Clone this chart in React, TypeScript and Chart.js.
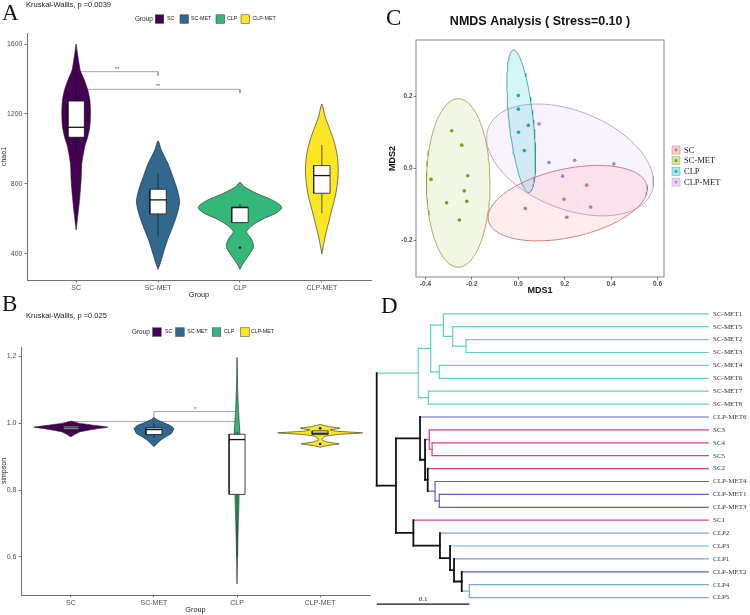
import React, { useEffect, useRef } from 'react';
import { Chart, registerables } from 'chart.js';
Chart.register(...registerables);

const SANS = '"Liberation Sans", Arial, sans-serif';
const SERIF = '"Liberation Serif", "Times New Roman", serif';
Chart.defaults.font.family = SANS;

const groups = ['SC', 'SC-MET', 'CLP', 'CLP-MET'];
const groupFill = ['#440154', '#31688E', '#35B779', '#FDE725'];

// ---------- Panel A : chao1 ----------
const chaoTitle = 'Kruskal-Wallis, p =0.0039';
const chaoTicks = [400, 800, 1200, 1600];
// [value, half width (category units)]
const chaoViolinSC = [[537, 0], [632, 0.024], [727, 0.045], [823, 0.061], [918, 0.07], [1013, 0.105], [1070, 0.142], [1127, 0.167], [1206, 0.175], [1280, 0.167], [1337, 0.142], [1394, 0.1], [1450, 0.05], [1490, 0.035], [1560, 0.012], [1600, 0]];
const chaoViolinSCMET = [[312, 0], [348, 0.028], [405, 0.065], [480, 0.115], [556, 0.18], [633, 0.236], [699, 0.264], [766, 0.236], [842, 0.18], [918, 0.12], [994, 0.04], [1047, 0]];
const chaoViolinCLP = [[312, 0], [347, 0.04], [394, 0.11], [442, 0.167], [490, 0.135], [527, 0.08], [566, 0.16], [604, 0.3], [633, 0.44], [661, 0.51], [680, 0.49], [709, 0.39], [747, 0.2], [785, 0.05], [810, 0]];
const chaoViolinCLPMET = [[400, 0], [499, 0.04], [575, 0.08], [651, 0.12], [727, 0.163], [804, 0.19], [880, 0.2], [956, 0.19], [1033, 0.155], [1109, 0.1], [1185, 0.04], [1257, 0]];
// [lower whisker, Q1, median, Q3, upper whisker]
const chaoBoxSC = [960, 1067, 1124, 1274, 1420];
const chaoBoxSCMET = [499, 629, 709, 770, 857];
const chaoBoxCLP = [579, 579, 665, 667, 686];
const chaoBoxCLPMET = [633, 747, 848, 905, 1023];
const chaoOutliers = [[3, 437]];
// [from group, to group, bracket height, label]
const chaoBrackets: [number, number, number, string][] = [[1, 2, 1442, '**'], [1, 3, 1341, '**']];

// ---------- Panel B : simpson ----------
const simpTitle = 'Kruskal-Wallis, p =0.025';
const simpTicks = [0.6, 0.8, 1.0, 1.2];
const simpViolinSC = [[0.959, 0], [0.967, 0.05], [0.975, 0.12], [0.983, 0.3], [0.988, 0.445], [0.993, 0.3], [1.0, 0.1], [1.006, 0]];
const simpViolinSCMET = [[0.93, 0], [0.949, 0.08], [0.959, 0.14], [0.969, 0.21], [0.984, 0.24], [0.993, 0.2], [1.001, 0.12], [1.01, 0.04], [1.017, 0]];
const simpViolinCLP = [[0.519, 0], [0.6, 0.006], [0.65, 0.01], [0.7, 0.015], [0.75, 0.022], [0.8, 0.026], [0.85, 0.028], [0.9, 0.03], [0.95, 0.034], [0.97, 0.034], [0.99, 0.03], [1.02, 0.022], [1.05, 0.015], [1.1, 0.008], [1.15, 0.004], [1.197, 0]];
const simpViolinCLPMET = [[0.928, 0], [0.933, 0.08], [0.938, 0.23], [0.944, 0.08], [0.95, 0.02], [0.96, 0.05], [0.966, 0.2], [0.971, 0.51], [0.976, 0.2], [0.98, 0.12], [0.985, 0.24], [0.99, 0.1], [0.996, 0]];
const simpBoxSC = [0.981, 0.981, 0.986, 0.991, 0.991];
const simpBoxSCMET = [0.956, 0.966, 0.981, 0.986, 1.0];
const simpBoxCLP = [0.6, 0.787, 0.951, 0.967, 0.975];
const simpBoxCLPMET = [0.966, 0.966, 0.970, 0.977, 0.977];
const simpOutliers = [[4, 0.985], [4, 0.938]];
const simpBrackets: [number, number, number, string][] = [[1, 3, 1.005, ''], [2, 3, 1.035, '*']];

// ---------- Panel C : NMDS ----------
const nmdsTitle = 'NMDS Analysis ( Stress=0.10 )';
const nmdsSC = [[0.295, -0.047], [0.197, -0.086], [0.312, -0.108], [0.03, -0.112], [0.209, -0.136]];
const nmdsSCMET = [[-0.287, 0.104], [-0.244, 0.064], [-0.218, -0.021], [-0.376, -0.031], [-0.233, -0.063], [-0.309, -0.096], [-0.222, -0.092], [-0.254, -0.144]];
const nmdsCLP = [[0, 0.202], [0, 0.164], [0.043, 0.119], [0.001, 0.1], [0.026, 0.049]];
const nmdsCLPMET = [[0.089, 0.123], [0.132, 0.016], [0.243, 0.022], [0.412, 0.012], [0.191, -0.022]];
// [centre x, centre y, semi-axis a (x,y), semi-axis b (x,y)]
const ellSC = [0.213, -0.097, 0.342, 0.0486, 0.0316, -0.0928];
const ellSCMET = [-0.259, -0.041, 0.137, 0, 0, 0.234];
const ellCLP = [0.0125, 0.1306, -0.034, 0.198, 0.0517, 0.0037];
const ellCLPMET = [0.223, 0.023, 0.351, -0.0908, -0.079, -0.126];
const nmdsXTicks = [-0.4, -0.2, 0, 0.2, 0.4, 0.6];
const nmdsYTicks = [-0.2, 0, 0.2];
const nmdsPoint = ['#D0707A', '#7C9B1C', '#1FA6AC', '#A686C6'];
const nmdsEllFill = ['rgba(248,118,109,0.13)', 'rgba(124,174,0,0.10)', 'rgba(0,191,196,0.16)', 'rgba(199,124,255,0.10)'];
const nmdsEllLine = ['#B86A6A', '#9AA032', '#2B95A0', '#B493C4'];

// ---------- Panel D : dendrogram ----------
const leafLabels = ['SC-MET1', 'SC-MET5', 'SC-MET2', 'SC-MET3', 'SC-MET4', 'SC-MET6', 'SC-MET7', 'SC-MET8', 'CLP-MET6', 'SC3', 'SC4', 'SC5', 'SC2', 'CLP-MET4', 'CLP-MET1', 'CLP-MET3', 'SC1', 'CLP2', 'CLP3', 'CLP1', 'CLP-MET2', 'CLP4', 'CLP5'];
const leafDepth = 0.358;
// [node, depth from root, child 1, child 2]
const treeMerges: [string, number, string, string][] = [
  ['n1', 0.0964, 'SC-MET2', 'SC-MET3'],
  ['n2', 0.082, 'SC-MET5', 'n1'],
  ['n3', 0.072, 'SC-MET1', 'n2'],
  ['n4', 0.0676, 'SC-MET4', 'SC-MET6'],
  ['n5', 0.0583, 'n3', 'n4'],
  ['n6', 0.0558, 'SC-MET7', 'SC-MET8'],
  ['n7', 0.0449, 'n5', 'n6'],
  ['n8', 0.0598, 'SC4', 'SC5'],
  ['n9', 0.0568, 'SC3', 'n8'],
  ['n10', 0.0676, 'CLP-MET1', 'CLP-MET3'],
  ['n11', 0.063, 'CLP-MET4', 'n10'],
  ['n12', 0.0551, 'SC2', 'n11'],
  ['n13', 0.0522, 'n9', 'n12'],
  ['n14', 0.0468, 'CLP-MET6', 'n13'],
  ['n15', 0.1, 'CLP4', 'CLP5'],
  ['n16', 0.0918, 'CLP-MET2', 'n15'],
  ['n17', 0.0835, 'CLP1', 'n16'],
  ['n18', 0.0792, 'CLP3', 'n17'],
  ['n19', 0.0683, 'CLP2', 'n18'],
  ['n20', 0.0396, 'SC1', 'n19'],
  ['n21', 0.0208, 'n14', 'n20'],
  ['root', 0, 'n7', 'n21'],
];
const scaleBar = 0.1;
const treeColor: Record<string, string> = { 'SC-MET': '#5ED3C6', SC: '#DB3F8B', CLP: '#74A9DB', 'CLP-MET': '#5F5FC4', mixed: '#111111' };

// ---------- helpers ----------
function violinPolygon(cat: number, profile: number[][]) {
  const right = profile.map(([v, w]) => ({ x: cat + w, y: v }));
  const left = profile.slice().reverse().map(([v, w]) => ({ x: cat - w, y: v }));
  return [...right, ...left.slice(1)];
}

function violinDatasets(violins: number[][][], boxes: number[][], outliers: number[][], brackets: [number, number, number, string][], tip: number, boxHalf: number, tension: number) {
  const ds: any[] = [];
  brackets.forEach(([a, b, y]) => {
    ds.push({ data: [{ x: a, y: y - tip }, { x: a, y }, { x: b, y }, { x: b, y: y - tip }], borderColor: '#8f8f8f', borderWidth: 0.8, pointRadius: 0, fill: false, tension: 0, order: 10 });
  });
  violins.forEach((prof, i) => {
    ds.push({ data: violinPolygon(i + 1, prof), borderColor: '#1e1e1e', borderWidth: 0.6, backgroundColor: groupFill[i], fill: 'shape', pointRadius: 0, tension, order: 6 });
  });
  boxes.forEach(([lw, q1, med, q3, uw], i) => {
    const c = i + 1;
    ds.push({ data: [{ x: c, y: lw }, { x: c, y: q1 }], borderColor: '#111', borderWidth: 0.7, pointRadius: 0, fill: false, tension: 0, order: 5 });
    ds.push({ data: [{ x: c, y: q3 }, { x: c, y: uw }], borderColor: '#111', borderWidth: 0.7, pointRadius: 0, fill: false, tension: 0, order: 5 });
    ds.push({ data: [{ x: c - boxHalf, y: q1 }, { x: c + boxHalf, y: q1 }, { x: c + boxHalf, y: q3 }, { x: c - boxHalf, y: q3 }, { x: c - boxHalf, y: q1 }], borderColor: '#111', borderWidth: 0.8, backgroundColor: '#ffffff', fill: 'shape', pointRadius: 0, tension: 0, order: 4 });
    ds.push({ data: [{ x: c - boxHalf, y: med }, { x: c + boxHalf, y: med }], borderColor: '#111', borderWidth: 1.3, pointRadius: 0, fill: false, tension: 0, order: 3 });
  });
  ds.push({ data: outliers.map(([c, v]) => ({ x: c, y: v })), showLine: false, pointRadius: 1.3, pointBackgroundColor: '#111', pointBorderWidth: 0, order: 1 });
  return ds;
}

function violinScales(yMin: number, yMax: number, yTicks: number[], yTitle: string, yFmt: (v: number) => string, yWidth: number) {
  return {
    x: {
      type: 'linear', min: 0.4, max: 4.6,
      afterBuildTicks: (s: any) => { s.ticks = [1, 2, 3, 4].map((v) => ({ value: v })); },
      ticks: { callback: (v: any) => groups[Math.round(v) - 1] ?? '', font: { size: 7, family: SANS }, color: '#4d4d4d', padding: 1, maxRotation: 0, autoSkip: false },
      grid: { display: true, drawOnChartArea: false, drawTicks: true, tickLength: 2.5, color: '#555', lineWidth: 0.8 },
      border: { display: true, color: '#707070', width: 1 },
      title: { display: true, text: 'Group', font: { size: 7.3, family: SANS }, color: '#222', padding: { top: 0, bottom: 0.5 } },
      afterFit: (s: any) => { s.height = 20; },
    },
    y: {
      type: 'linear', min: yMin, max: yMax,
      afterBuildTicks: (s: any) => { s.ticks = yTicks.map((v) => ({ value: v })); },
      ticks: { callback: (v: any) => yFmt(v), font: { size: 7, family: SANS }, color: '#4d4d4d', padding: 2 },
      grid: { display: true, drawOnChartArea: false, drawTicks: true, tickLength: 2.5, color: '#555', lineWidth: 0.8 },
      border: { display: true, color: '#707070', width: 1 },
      title: { display: true, text: yTitle, font: { size: 7, family: SANS }, color: '#222', padding: { top: 0, bottom: 0 } },
      afterFit: (s: any) => { s.width = yWidth; },
    },
  };
}

function headerPlugin(id: string, title: string, titleY: number, legendY: number, groupX: number, boxX: number[], labX: number[], brackets: [number, number, number, string][]) {
  return {
    id,
    afterDraw(chart: any) {
      const ctx = chart.ctx;
      ctx.save();
      ctx.fillStyle = '#1a1a1a';
      ctx.textBaseline = 'middle';
      ctx.textAlign = 'left';
      ctx.font = `7.5px ${SANS}`;
      ctx.fillText(title, 26, titleY);
      ctx.font = `6.4px ${SANS}`;
      ctx.fillText('Group', groupX, legendY);
      groups.forEach((g, i) => {
        ctx.fillStyle = groupFill[i];
        ctx.fillRect(boxX[i], legendY - 4.2, 8.5, 8.5);
        ctx.strokeStyle = '#333';
        ctx.lineWidth = 0.5;
        ctx.strokeRect(boxX[i], legendY - 4.2, 8.5, 8.5);
        ctx.fillStyle = '#1a1a1a';
        ctx.font = `5.3px ${SANS}`;
        ctx.fillText(g, labX[i], legendY);
      });
      const xs = chart.scales.x, ys = chart.scales.y;
      ctx.fillStyle = '#555';
      ctx.font = `6px ${SANS}`;
      ctx.textAlign = 'center';
      ctx.textBaseline = 'alphabetic';
      brackets.forEach(([a, b, y, lab]) => {
        if (lab) ctx.fillText(lab, xs.getPixelForValue((a + b) / 2), ys.getPixelForValue(y) - 1);
      });
      ctx.restore();
    },
  };
}

function ellipsePoints(e: number[]) {
  const [cx, cy, ax, ay, bx, by] = e;
  const pts: { x: number; y: number }[] = [];
  const n = 96;
  for (let k = 0; k <= n; k++) {
    const t = (k / n) * 2 * Math.PI;
    pts.push({ x: cx + ax * Math.cos(t) + bx * Math.sin(t), y: cy + ay * Math.cos(t) + by * Math.sin(t) });
  }
  return pts;
}

function makeA(canvas: HTMLCanvasElement) {
  return new Chart(canvas, {
    type: 'line',
    data: { datasets: violinDatasets([chaoViolinSC, chaoViolinSCMET, chaoViolinCLP, chaoViolinCLPMET], [chaoBoxSC, chaoBoxSCMET, chaoBoxCLP, chaoBoxCLPMET], chaoOutliers, chaoBrackets, 22, 0.1, 0.25) },
    options: {
      responsive: false, animation: false, events: [],
      layout: { padding: { left: 0, top: 33, right: 3, bottom: 0 } },
      plugins: { legend: { display: false }, tooltip: { enabled: false } },
      scales: violinScales(251, 1663, chaoTicks, 'chao1', (v) => String(v), 27) as any,
    },
    plugins: [headerPlugin('hdrA', chaoTitle, 5, 19, 135, [155.3, 180, 216, 241], [167, 191, 227, 252.5], chaoBrackets)],
  } as any);
}

function makeB(canvas: HTMLCanvasElement) {
  return new Chart(canvas, {
    type: 'line',
    data: { datasets: violinDatasets([simpViolinSC, simpViolinSCMET, simpViolinCLP, simpViolinCLPMET], [simpBoxSC, simpBoxSCMET, simpBoxCLP, simpBoxCLPMET], simpOutliers, simpBrackets, 0.018, 0.096, 0.1) },
    options: {
      responsive: false, animation: false, events: [],
      layout: { padding: { left: 0, top: 47, right: 5, bottom: 0 } },
      plugins: { legend: { display: false }, tooltip: { enabled: false } },
      scales: violinScales(0.486, 1.228, simpTicks, 'simpson', (v) => Number(v).toFixed(1), 21) as any,
    },
    plugins: [headerPlugin('hdrB', simpTitle, 16, 32, 132, [152.7, 175.7, 212.3, 240.7], [165, 187.3, 224, 250.7], simpBrackets)],
  } as any);
}

function makeC(canvas: HTMLCanvasElement) {
  const pts = [nmdsSC, nmdsSCMET, nmdsCLP, nmdsCLPMET];
  const ells = [ellSC, ellSCMET, ellCLP, ellCLPMET];
  const datasets: any[] = [];
  ells.forEach((e, i) => {
    datasets.push({ data: ellipsePoints(e), borderColor: nmdsEllLine[i], borderWidth: 0.8, backgroundColor: nmdsEllFill[i], fill: 'shape', pointRadius: 0, tension: 0, order: 5 });
  });
  pts.forEach((p, i) => {
    datasets.push({ data: p.map(([x, y]) => ({ x, y })), showLine: false, pointRadius: 1.8, pointBackgroundColor: nmdsPoint[i], pointBorderWidth: 0, order: 1 });
  });
  const tickStyle = { font: { size: 6.5, family: SANS, weight: 'bold' }, color: '#4d4d4d', padding: 1 };
  const grid = { display: true, drawOnChartArea: false, drawTicks: true, tickLength: 2.5, color: '#555', lineWidth: 0.8 };
  return new Chart(canvas, {
    type: 'line',
    data: { datasets },
    options: {
      responsive: false, animation: false, events: [],
      layout: { padding: { left: 0, top: 40, right: 86, bottom: 0 } },
      plugins: { legend: { display: false }, tooltip: { enabled: false } },
      scales: {
        x: {
          type: 'linear', min: -0.441, max: 0.628,
          afterBuildTicks: (s: any) => { s.ticks = nmdsXTicks.map((v) => ({ value: v })); },
          ticks: { ...tickStyle, callback: (v: any) => Number(v).toFixed(1), maxRotation: 0, autoSkip: false },
          grid, border: { display: false },
          title: { display: true, text: 'MDS1', font: { size: 9, family: SANS, weight: 'bold' }, color: '#111', padding: { top: 0, bottom: 1.6 } },
          afterFit: (s: any) => { s.height = 21; },
        },
        y: {
          type: 'linear', min: -0.302, max: 0.356,
          afterBuildTicks: (s: any) => { s.ticks = nmdsYTicks.map((v) => ({ value: v })); },
          ticks: { ...tickStyle, callback: (v: any) => Number(v).toFixed(1) },
          grid, border: { display: false },
          title: { display: true, text: 'MDS2', font: { size: 9, family: SANS, weight: 'bold' }, color: '#111', padding: { top: 7.6, bottom: 0 } },
          afterFit: (s: any) => { s.width = 36; },
        },
      },
    },
    plugins: [{
      id: 'decorC',
      afterDraw(chart: any) {
        const ctx = chart.ctx;
        const a = chart.chartArea;
        ctx.save();
        ctx.strokeStyle = '#777';
        ctx.lineWidth = 0.9;
        ctx.strokeRect(a.left, a.top, a.right - a.left, a.bottom - a.top);
        ctx.fillStyle = '#111';
        ctx.font = `bold 12.5px ${SANS}`;
        ctx.textAlign = 'center';
        ctx.textBaseline = 'middle';
        ctx.fillText(nmdsTitle, (a.left + a.right) / 2, 21.5);
        ctx.textAlign = 'left';
        ctx.font = `8.5px ${SERIF}`;
        groups.forEach((g, i) => {
          const y = 150 + i * 10.7;
          ctx.fillStyle = nmdsEllFill[i].replace(/0\.\d+\)$/, '0.35)');
          ctx.fillRect(292, y - 4, 8, 8);
          ctx.strokeStyle = nmdsEllLine[i];
          ctx.lineWidth = 0.4;
          ctx.strokeRect(292, y - 4, 8, 8);
          ctx.fillStyle = nmdsPoint[i];
          ctx.beginPath();
          ctx.arc(296, y, 1.4, 0, Math.PI * 2);
          ctx.fill();
          ctx.fillStyle = '#222';
          ctx.fillText(g, 304, y + 0.5);
        });
        ctx.restore();
      },
    }],
  } as any);
}

function makeD(canvas: HTMLCanvasElement) {
  const pos: Record<string, { x: number; y: number; g: string }> = {};
  leafLabels.forEach((l, i) => { pos[l] = { x: leafDepth, y: i, g: l.replace(/\d+$/, '') }; });
  const segs: { pts: { x: number; y: number }[]; g: string }[] = [];
  treeMerges.forEach(([id, h, a, b]) => {
    const A = pos[a], B = pos[b];
    const g = A.g === B.g ? A.g : 'mixed';
    pos[id] = { x: h, y: (A.y + B.y) / 2, g };
    segs.push({ pts: [{ x: h, y: A.y }, { x: A.x, y: A.y }], g: A.g });
    segs.push({ pts: [{ x: h, y: B.y }, { x: B.x, y: B.y }], g: B.g });
    segs.push({ pts: [{ x: h, y: A.y }, { x: h, y: B.y }], g });
  });
  const datasets: any[] = segs.map((s) => ({
    data: s.pts, borderColor: treeColor[s.g], borderWidth: s.g === 'mixed' ? 1.8 : 1.2,
    pointRadius: 0, fill: false, tension: 0, borderCapStyle: 'square', order: s.g === 'mixed' ? 1 : 2,
  }));
  const barY = leafLabels.length - 0.5;
  datasets.push({ data: [{ x: 0, y: barY }, { x: scaleBar, y: barY }], borderColor: '#111', borderWidth: 1.3, pointRadius: 0, fill: false, tension: 0 });
  return new Chart(canvas, {
    type: 'line',
    data: { datasets },
    options: {
      responsive: false, animation: false, events: [],
      layout: { padding: { left: 5, top: 10, right: 0, bottom: 3 } },
      plugins: { legend: { display: false }, tooltip: { enabled: false } },
      scales: {
        x: { type: 'linear', display: false, min: -0.00184, max: 0.3599 },
        y: {
          type: 'linear', position: 'right', reverse: true, min: -1.07, max: 22.79,
          afterBuildTicks: (s: any) => { s.ticks = leafLabels.map((_, i) => ({ value: i })); },
          ticks: { callback: (v: any) => leafLabels[Math.round(v)] ?? '', font: { size: 7, family: SERIF }, color: '#333', padding: 3, autoSkip: false },
          grid: { display: false, drawTicks: false },
          border: { display: false },
          afterFit: (s: any) => { s.width = 40; },
        },
      },
    },
    plugins: [{
      id: 'decorD',
      afterDraw(chart: any) {
        const ctx = chart.ctx;
        ctx.save();
        ctx.fillStyle = '#222';
        ctx.font = `7px ${SERIF}`;
        ctx.textAlign = 'center';
        ctx.textBaseline = 'alphabetic';
        ctx.fillText(String(scaleBar), chart.scales.x.getPixelForValue(scaleBar / 2), chart.scales.y.getPixelForValue(barY) - 2.8);
        ctx.restore();
      },
    }],
  } as any);
}

function Panel({ left, top, width, height, make }: { left: number; top: number; width: number; height: number; make: (c: HTMLCanvasElement) => Chart }) {
  const ref = useRef<HTMLCanvasElement | null>(null);
  useEffect(() => {
    if (!ref.current) return;
    const chart = make(ref.current);
    return () => chart.destroy();
  }, []);
  return (
    <div style={{ position: 'absolute', left, top, width, height }}>
      <canvas ref={ref} width={width} height={height} style={{ width, height, display: 'block' }} />
    </div>
  );
}

const letterStyle = (left: number, top: number): React.CSSProperties => ({
  position: 'absolute', left, top, fontFamily: SERIF, fontSize: 23, lineHeight: '23px', color: '#111',
});

export default function App() {
  return (
    <div style={{ position: 'absolute', left: 0, top: 0, width: 750, height: 615, background: '#fff', overflow: 'hidden' }}>
      <Panel left={0} top={0} width={375} height={300} make={makeA} />
      <Panel left={0} top={300} width={375} height={315} make={makeB} />
      <Panel left={380} top={0} width={370} height={298} make={makeC} />
      <Panel left={370} top={290} width={380} height={325} make={makeD} />
      <div style={letterStyle(2, 1)}>A</div>
      <div style={letterStyle(2, 292)}>B</div>
      <div style={letterStyle(386, 6)}>C</div>
      <div style={letterStyle(381, 294)}>D</div>
    </div>
  );
}
